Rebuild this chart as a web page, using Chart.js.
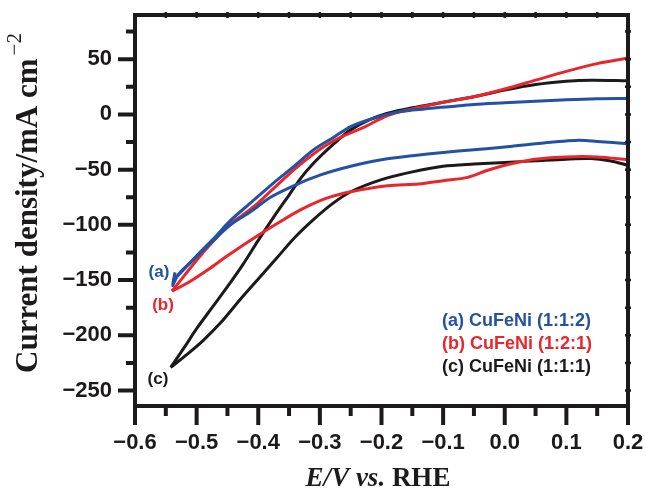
<!DOCTYPE html>
<html>
<head>
<meta charset="utf-8">
<script src="https://cdn.jsdelivr.net/npm/chart.js@4.4.0/dist/chart.umd.min.js"></script>
<style>
  body { margin: 0; background: #fff; }
  #wrap { width: 646px; height: 489px; }
</style>
</head>
<body>
<div id="wrap"><canvas id="cvChart" width="646" height="489"></canvas></div>
<script>
// (a) CuFeNi (1:1:2) - forward sweep then return sweep
const aUpE = [-0.537, -0.52, -0.50, -0.47, -0.445, -0.41, -0.375, -0.342, -0.31, -0.277, -0.25, -0.21, -0.17, -0.13, -0.09, -0.05, 0.0, 0.05, 0.1, 0.15, 0.2];
const aUpJ = [-150, -140, -128, -111, -96, -79, -62, -47, -32, -20.5, -11, -3, 2.5, 5, 7, 9, 10.5, 12, 13.3, 14.2, 14.5];
const aDownE = [0.2, 0.15, 0.12, 0.05, 0.0, -0.05, -0.1, -0.15, -0.2, -0.25, -0.3, -0.34, -0.38, -0.412, -0.445, -0.48, -0.51, -0.53, -0.539, -0.535];
const aDownJ = [-26.5, -24.5, -23.5, -26.5, -29.5, -32, -34.5, -37.5, -41, -47, -55, -64, -75, -88, -100, -118, -134, -145, -155, -143];

// (b) CuFeNi (1:2:1)
const bUpE = [-0.540, -0.52, -0.50, -0.475, -0.45, -0.425, -0.40, -0.375, -0.35, -0.32, -0.29, -0.26, -0.23, -0.19, -0.15, -0.10, -0.05, 0.0, 0.05, 0.1, 0.15, 0.2];
const bUpJ = [-160, -146, -132, -116, -101, -91, -80, -67, -54, -40, -28, -19, -12, -1, 5, 11, 16, 23, 31, 39, 46, 51];
const bDownE = [0.2, 0.15, 0.1, 0.05, 0.02, 0.0, -0.03, -0.06, -0.1, -0.14, -0.19, -0.25, -0.29, -0.33, -0.37, -0.41, -0.45, -0.48, -0.51, -0.540];
const bDownJ = [-41, -38.5, -38.5, -40.5, -43.5, -46, -51, -57, -60, -63, -64.5, -70, -76, -86, -99, -113, -128, -140, -151, -160];

// (c) CuFeNi (1:1:1)
const cUpE = [-0.542, -0.52, -0.50, -0.475, -0.45, -0.425, -0.40, -0.375, -0.35, -0.33, -0.31, -0.29, -0.27, -0.25, -0.22, -0.19, -0.15, -0.10, -0.05, 0.0, 0.05, 0.1, 0.14, 0.2];
const cUpJ = [-229, -211, -194, -175, -156, -136, -114, -93, -73, -57, -44, -33, -23, -14, -5, 1, 6, 11, 16, 22, 27, 30, 31, 30.5];
const cDownE = [0.2, 0.17, 0.14, 0.1, 0.05, 0.0, -0.05, -0.1, -0.15, -0.2, -0.25, -0.28, -0.31, -0.34, -0.37, -0.40, -0.43, -0.46, -0.49, -0.515, -0.542];
const cDownJ = [-46, -42, -40, -40.5, -42, -43.5, -45, -47, -52, -59, -70, -81, -95, -111, -130, -149, -168, -188, -205, -217, -229];

const seriesNames = ['(a) CuFeNi (1:1:2)', '(b) CuFeNi (1:2:1)', '(c) CuFeNi (1:1:1)'];
const tagNames = ['(a)', '(b)', '(c)'];
const colors = ['#2451a3', '#e8262c', '#1c1a1a'];

const SANS = "'Liberation Sans', Arial, sans-serif";
const SERIF = "'Liberation Serif', 'Times New Roman', serif";

function pts(es, js) {
  return es.map((e, i) => ({ x: e, y: js[i] }));
}

const minus = s => s.replace('-', '\u2212');

// frame, minor ticks, axis titles and labels
const extras = {
  id: 'extras',
  afterDraw(chart) {
    const { ctx, chartArea: a, scales: { x, y } } = chart;
    ctx.save();
    ctx.strokeStyle = '#1c1a1a';
    ctx.lineCap = 'butt';

    // ticks
    ctx.lineWidth = 4;
    ctx.beginPath();
    for (let v = -250; v <= 75; v += 25) {
      const py = y.getPixelForValue(v);
      const len = (v % 50 === 0) ? 17 : 9;
      ctx.moveTo(a.left - len, py); ctx.lineTo(a.left, py);
    }
    for (let i = 0; i <= 16; i++) {
      const v = -0.6 + i * 0.05;
      const px = x.getPixelForValue(v);
      const len = (i % 2 === 0) ? 19 : 10;
      ctx.moveTo(px, a.bottom); ctx.lineTo(px, a.bottom + len);
    }
    ctx.stroke();

    // tiny ticks on top and right
    ctx.lineWidth = 2.5;
    ctx.beginPath();
    for (let i = 1; i < 16; i++) {
      const px = x.getPixelForValue(-0.6 + i * 0.05);
      ctx.moveTo(px, a.top - 3); ctx.lineTo(px, a.top + 3);
    }
    for (let v = -250; v <= 75; v += 25) {
      const py = y.getPixelForValue(v);
      ctx.moveTo(a.right - 3, py); ctx.lineTo(a.right + 3, py);
    }
    ctx.stroke();

    // frame
    ctx.lineWidth = 4;
    ctx.strokeRect(a.left, a.top, a.right - a.left, a.bottom - a.top);

    // y title
    ctx.fillStyle = '#1c1a1a';
    ctx.save();
    ctx.translate(37, 373);
    ctx.rotate(-Math.PI / 2);
    ctx.font = 'bold 31px ' + SERIF;
    ctx.textAlign = 'left';
    ctx.textBaseline = 'alphabetic';
    const main = 'Current density/mA cm';
    ctx.fillText(main, 0, 0);
    const w = ctx.measureText(main).width;
    ctx.font = '21px ' + SERIF;
    ctx.fillText('\u22122', w + 3, -16);
    ctx.restore();

    // x title
    const parts = [
      { t: 'E/V', f: 'italic bold 27px ' + SERIF },
      { t: ' vs.', f: 'italic bold 27px ' + SERIF },
      { t: ' RHE', f: 'bold 27px ' + SERIF }
    ];
    let total = 0;
    parts.forEach(p => { ctx.font = p.f; p.w = ctx.measureText(p.t).width; total += p.w; });
    let sx = 378 - total / 2;
    ctx.textAlign = 'left';
    ctx.textBaseline = 'alphabetic';
    parts.forEach(p => { ctx.font = p.f; ctx.fillText(p.t, sx, 486); sx += p.w; });

    // curve tags
    ctx.font = 'bold 17px ' + SANS;
    ctx.textAlign = 'center';
    ctx.textBaseline = 'middle';
    const tagPos = [[159, 272], [163, 305], [158, 379]];
    tagNames.forEach((t, i) => { ctx.fillStyle = colors[i]; ctx.fillText(t, tagPos[i][0], tagPos[i][1]); });

    // legend text
    ctx.font = 'bold 18px ' + SANS;
    ctx.textAlign = 'left';
    const legY = [321, 344, 367];
    seriesNames.forEach((t, i) => { ctx.fillStyle = colors[i]; ctx.fillText(t, 442, legY[i]); });
    ctx.restore();
  }
};

const ctx = document.getElementById('cvChart').getContext('2d');

const chart = new Chart(ctx, {
  type: 'scatter',
  data: {
    datasets: [
      { label: seriesNames[0], data: pts(aUpE, aUpJ), borderColor: colors[0] },
      { label: seriesNames[0], data: pts(aDownE, aDownJ), borderColor: colors[0] },
      { label: seriesNames[1], data: pts(bUpE, bUpJ), borderColor: colors[1] },
      { label: seriesNames[1], data: pts(bDownE, bDownJ), borderColor: colors[1] },
      { label: seriesNames[2], data: pts(cUpE, cUpJ), borderColor: colors[2] },
      { label: seriesNames[2], data: pts(cDownE, cDownJ), borderColor: colors[2] }
    ]
  },
  options: {
    responsive: false,
    animation: false,
    devicePixelRatio: 1,
    layout: { padding: { top: 15, right: 18, left: 0, bottom: 0 } },
    elements: {
      point: { radius: 0 },
      line: { borderWidth: 3, tension: 0.3, fill: false }
    },
    datasets: { scatter: { showLine: true, clip: { left: 0, top: 0, right: 0, bottom: 0 } } },
    plugins: { legend: { display: false }, tooltip: { enabled: false } },
    scales: {
      x: {
        type: 'linear',
        min: -0.6, max: 0.2,
        afterFit: s => { s.height = 83; s.paddingLeft = 0; s.paddingRight = 0; },
        grid: { display: false, drawTicks: false },
        border: { display: false },
        ticks: {
          stepSize: 0.1,
          padding: 24,
          color: '#1c1a1a',
          font: { family: SANS, size: 22, weight: 'bold' },
          callback: v => minus((Math.abs(v) < 1e-9 ? 0 : v).toFixed(1))
        }
      },
      y: {
        type: 'linear',
        min: -264, max: 90,
        afterFit: s => { s.width = 135; s.paddingTop = 0; s.paddingBottom = 0; },
        grid: { display: false, drawTicks: false },
        border: { display: false },
        ticks: {
          stepSize: 50,
          includeBounds: false,
          padding: 23,
          color: '#1c1a1a',
          font: { family: SANS, size: 22, weight: 'bold' },
          callback: v => minus(String(v))
        }
      }
    }
  },
  plugins: [extras]
});
</script>
</body>
</html>
